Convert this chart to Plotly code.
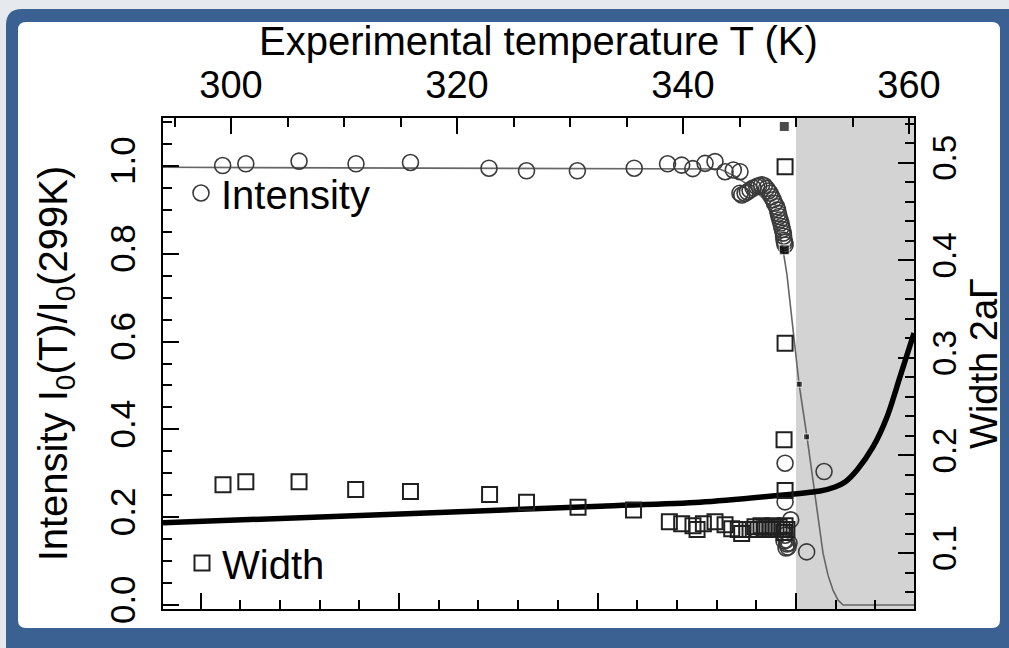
import plotly.graph_objects as go

# ---------------- data ----------------
# Intensity I0(T)/I0(299K), open circles, vs experimental temperature T (K)
T_int = [299.26, 301.31, 306.02, 311.06, 315.88, 322.83, 326.15, 330.65, 335.68,
         338.63, 339.88, 340.86, 341.95, 342.83, 343.72, 344.45, 345.04,
         345.04, 345.49, 345.93, 346.52, 346.96, 347.40, 347.70, 347.99, 348.29,
         348.43, 348.58, 348.73, 348.88, 348.94, 349.03,
         345.20, 345.70, 346.20, 346.70, 347.20, 347.55, 347.85, 348.10, 348.36,
         348.50, 348.66, 348.80, 348.90, 349.00,
         349.03, 352.48, 349.03, 349.53, 349.03, 349.12, 349.20, 349.29, 349.38,
         348.94, 349.12, 350.94]
I_int = [1.001, 1.005, 1.011, 1.005, 1.008, 0.995, 0.989, 0.989, 0.995,
         1.005, 1.002, 0.994, 1.006, 1.010, 0.987, 0.991, 0.987,
         0.938, 0.938, 0.945, 0.953, 0.957, 0.949, 0.938, 0.923, 0.907,
         0.892, 0.877, 0.862, 0.847, 0.831, 0.820,
         0.934, 0.941, 0.950, 0.955, 0.955, 0.943, 0.930, 0.915, 0.900,
         0.885, 0.870, 0.855, 0.840, 0.826,
         0.323, 0.304, 0.235, 0.194, 0.159, 0.148, 0.139, 0.132, 0.141,
         0.146, 0.130, 0.121]

# Width 2aGamma, open squares
T_wid = [299.29, 301.31, 306.02, 311.03, 315.88, 322.88, 326.15, 330.71, 335.62,
         338.79, 339.88, 340.88, 341.24, 341.80, 342.83, 343.72, 344.31, 344.89,
         345.19, 345.93, 346.37, 346.64, 346.90, 347.17, 347.43, 347.70, 347.96,
         348.23, 348.50, 348.76, 349.03, 349.20, 348.94,
         349.03, 349.03, 348.94, 349.03]
W_wid = [0.170, 0.173, 0.173, 0.165, 0.163, 0.160, 0.152, 0.147, 0.144,
         0.132, 0.130, 0.128, 0.124, 0.130, 0.132, 0.129, 0.125, 0.124,
         0.120, 0.124, 0.127, 0.124, 0.128, 0.125, 0.127, 0.124, 0.128,
         0.125, 0.127, 0.124, 0.128, 0.124, 0.121,
         0.496, 0.315, 0.216, 0.164]

# small filled squares (on the intensity scale)
T_filled = [348.96, 348.96, 350.29, 350.94]
I_filled = [1.090, 0.809, 0.503, 0.383]

# fitted intensity curve
T_fitI = [293.98, 343.27, 344.60, 345.93, 346.99, 347.88, 348.50, 348.85, 349.20,
          349.73, 350.27, 350.97, 351.68, 352.39, 352.83, 353.27, 353.72, 354.16, 360.44]
I_fit = [0.997, 0.993, 0.977, 0.954, 0.929, 0.895, 0.849, 0.809, 0.752,
         0.626, 0.503, 0.383, 0.255, 0.118, 0.068, 0.034, 0.011, 0.0, 0.0]

# fitted width curve
T_fitW = [293.98, 314.96, 332.65, 341.50, 348.85, 352.12, 353.45, 354.34, 355.40,
          356.81, 358.05, 359.20, 360.44]
W_fit = [0.131, 0.140, 0.148, 0.152, 0.1595, 0.1636, 0.1677, 0.1728, 0.1851,
         0.2087, 0.2395, 0.2805, 0.3256]

T_transition = 350.0
T_range = [293.98, 360.44]
I_range = [-0.0091, 1.1093]
W_range = [0.0426, 0.546]
bottom_range = [-3.189, 0.594]   # unlabelled bottom scale (major ticks only)

top_title = "Experimental temperature T (K)"
left_title = "Intensity I<sub>0</sub>(T)/I<sub>0</sub>(299K)"
right_title = "Width 2aΓ"

FONT = "Liberation Sans, Arial, sans-serif"

fig = go.Figure()
fig.add_trace(go.Scatter(x=T_fitI, y=I_fit, mode="lines",
                         line=dict(color="#666666", width=1.6),
                         showlegend=False, hoverinfo="skip"))
fig.add_trace(go.Scatter(x=T_fitW, y=W_fit, mode="lines", yaxis="y2",
                         line=dict(color="black", width=5.5, shape="spline", smoothing=0.8),
                         showlegend=False, hoverinfo="skip"))
fig.add_trace(go.Scatter(x=T_int, y=I_int, mode="markers", name="Intensity",
                         marker=dict(symbol="circle-open", size=16, color="#3a3a3a",
                                     line=dict(width=1.6)),
                         legend="legend"))
fig.add_trace(go.Scatter(x=T_wid, y=W_wid, mode="markers", name="Width", yaxis="y2",
                         marker=dict(symbol="square-open", size=15, color="#202020",
                                     line=dict(width=2)),
                         legend="legend2"))
fig.add_trace(go.Scatter(x=T_filled, y=I_filled, mode="markers", showlegend=False,
                         marker=dict(symbol="square", size=[10, 10, 6, 6], color="black")))
fig.add_trace(go.Scatter(x=[], y=[], xaxis="x2", showlegend=False))

# frame (blue rounded panel with white inner area)
L, R, T, B = 163, 914, 118, 609
W_, H_ = R - L, B - T
px = lambda v: (v - L) / W_
py = lambda v: (B - v) / H_


def rounded(x0, y0, x1, y1, r):
    # path in paper coordinates, corners given in pixels
    rx, ry = r / W_, r / H_
    X0, X1, Y0, Y1 = px(x0), px(x1), py(y1), py(y0)
    return (f"M{X0 + rx},{Y1} L{X1 - rx},{Y1} Q{X1},{Y1} {X1},{Y1 - ry} "
            f"L{X1},{Y0 + ry} Q{X1},{Y0} {X1 - rx},{Y0} L{X0 + rx},{Y0} "
            f"Q{X0},{Y0} {X0},{Y0 + ry} L{X0},{Y1 - ry} Q{X0},{Y1} {X0 + rx},{Y1} Z")


shapes = [
    dict(type="path", xref="paper", yref="paper", layer="below",
         path=rounded(6, 9, 1030, 670, 16), fillcolor="#3a6191", line=dict(width=0)),
    dict(type="path", xref="paper", yref="paper", layer="below",
         path=rounded(18, 22, 1000, 628, 8), fillcolor="white", line=dict(width=0)),
    dict(type="rect", xref="x", yref="paper", layer="below",
         x0=T_transition, x1=T_range[1], y0=0, y1=1,
         fillcolor="#d3d3d3", line=dict(width=0)),
]

axis_common = dict(showgrid=False, zeroline=False, showline=True, linecolor="black",
                   linewidth=2, ticks="inside", tickcolor="black", tickwidth=2,
                   ticklen=16, automargin=False)

fig.update_layout(
    width=1009, height=648,
    margin=dict(l=L, r=1009 - R, t=T, b=648 - B, pad=0),
    paper_bgcolor="#e6e9ee", plot_bgcolor="rgba(0,0,0,0)",
    font=dict(family=FONT, color="black"),
    shapes=shapes,
    annotations=[dict(text=top_title, xref="paper", yref="paper", x=0.5, y=py(41),
                      xanchor="center", yanchor="middle", showarrow=False,
                      font=dict(size=40))],
    xaxis=dict(range=T_range, side="top", tick0=300, dtick=20,
               minor=dict(dtick=5, ticks="inside", ticklen=9, tickwidth=1.5, tickcolor="black"),
               tickfont=dict(size=38), ticklabelstandoff=3,
               **axis_common),
    xaxis2=dict(range=bottom_range, overlaying="x", side="bottom", anchor="y",
                tick0=0, dtick=1, showticklabels=False,
                minor=dict(dtick=0.2, ticks="inside", ticklen=9, tickwidth=1.5, tickcolor="black"),
                **axis_common),
    yaxis=dict(range=I_range, tick0=0, dtick=0.2, tickformat=".1f", tickangle=-90,
               minor=dict(dtick=0.05, ticks="inside", ticklen=9, tickwidth=1.5, tickcolor="black"),
               tickfont=dict(size=35), ticklabelstandoff=12,
               title=dict(text=left_title, font=dict(size=40), standoff=23),
               **axis_common),
    yaxis2=dict(range=W_range, overlaying="y", side="right", anchor="x",
                tick0=0, dtick=0.1, tickformat=".1f", tickangle=-90,
                minor=dict(dtick=0.02, ticks="inside", ticklen=9, tickwidth=1.5, tickcolor="black"),
                tickfont=dict(size=33), ticklabelstandoff=0,
                title=dict(text=right_title, font=dict(size=38), standoff=4),
                **axis_common),
    legend=dict(x=px(181), y=py(193), xanchor="left", yanchor="middle",
                bgcolor="rgba(0,0,0,0)", font=dict(size=40), itemwidth=30,
                borderwidth=0, tracegroupgap=0),
    legend2=dict(x=px(182), y=py(563), xanchor="left", yanchor="middle",
                 bgcolor="rgba(0,0,0,0)", font=dict(size=40), itemwidth=30,
                 borderwidth=0, tracegroupgap=0),
)

fig.write_html("out.html", config={"displayModeBar": False},
               post_script="document.body.style.margin='0';document.body.style.padding='0';")
